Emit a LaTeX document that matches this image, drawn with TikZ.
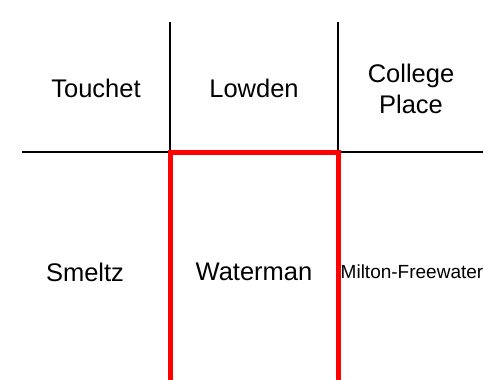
\documentclass[tikz,border=0pt]{standalone}
\usepackage{fontspec}
\setmainfont{Liberation Sans}
\begin{document}
\begin{tikzpicture}[x=1pt,y=-1pt,
  lbl/.style={font=\fontsize{25.5}{31}\selectfont, align=center, inner sep=0pt},
  small/.style={font=\fontsize{19}{22}\selectfont, inner sep=0pt},
  border/.style={line width=2pt, black},
  hilite/.style={line width=5pt, red}]
\useasboundingbox (0,0) rectangle (483,380);
% black township lines
\draw[border] (22,152) -- (483,152);
\draw[border] (170,22) -- (170,152);
\draw[border] (338,22) -- (338,152);
% red outline of Waterman
\draw[hilite, line join=miter] (170,383) -- (170,152) -- (338,152) -- (338,383);
% labels
\node[lbl] (touchet) at (96,88) {Touchet};
\node[lbl] (lowden) at (254,88) {Lowden};
\node[lbl] (college) at (411,89) {College\\Place};
\node[lbl] (smeltz) at (85,272) {Smeltz};
\node[lbl] (waterman) at (254,272) {Waterman};
\node[small] (milton) at (412,272) {Milton-Freewater};
\end{tikzpicture}
\end{document}
